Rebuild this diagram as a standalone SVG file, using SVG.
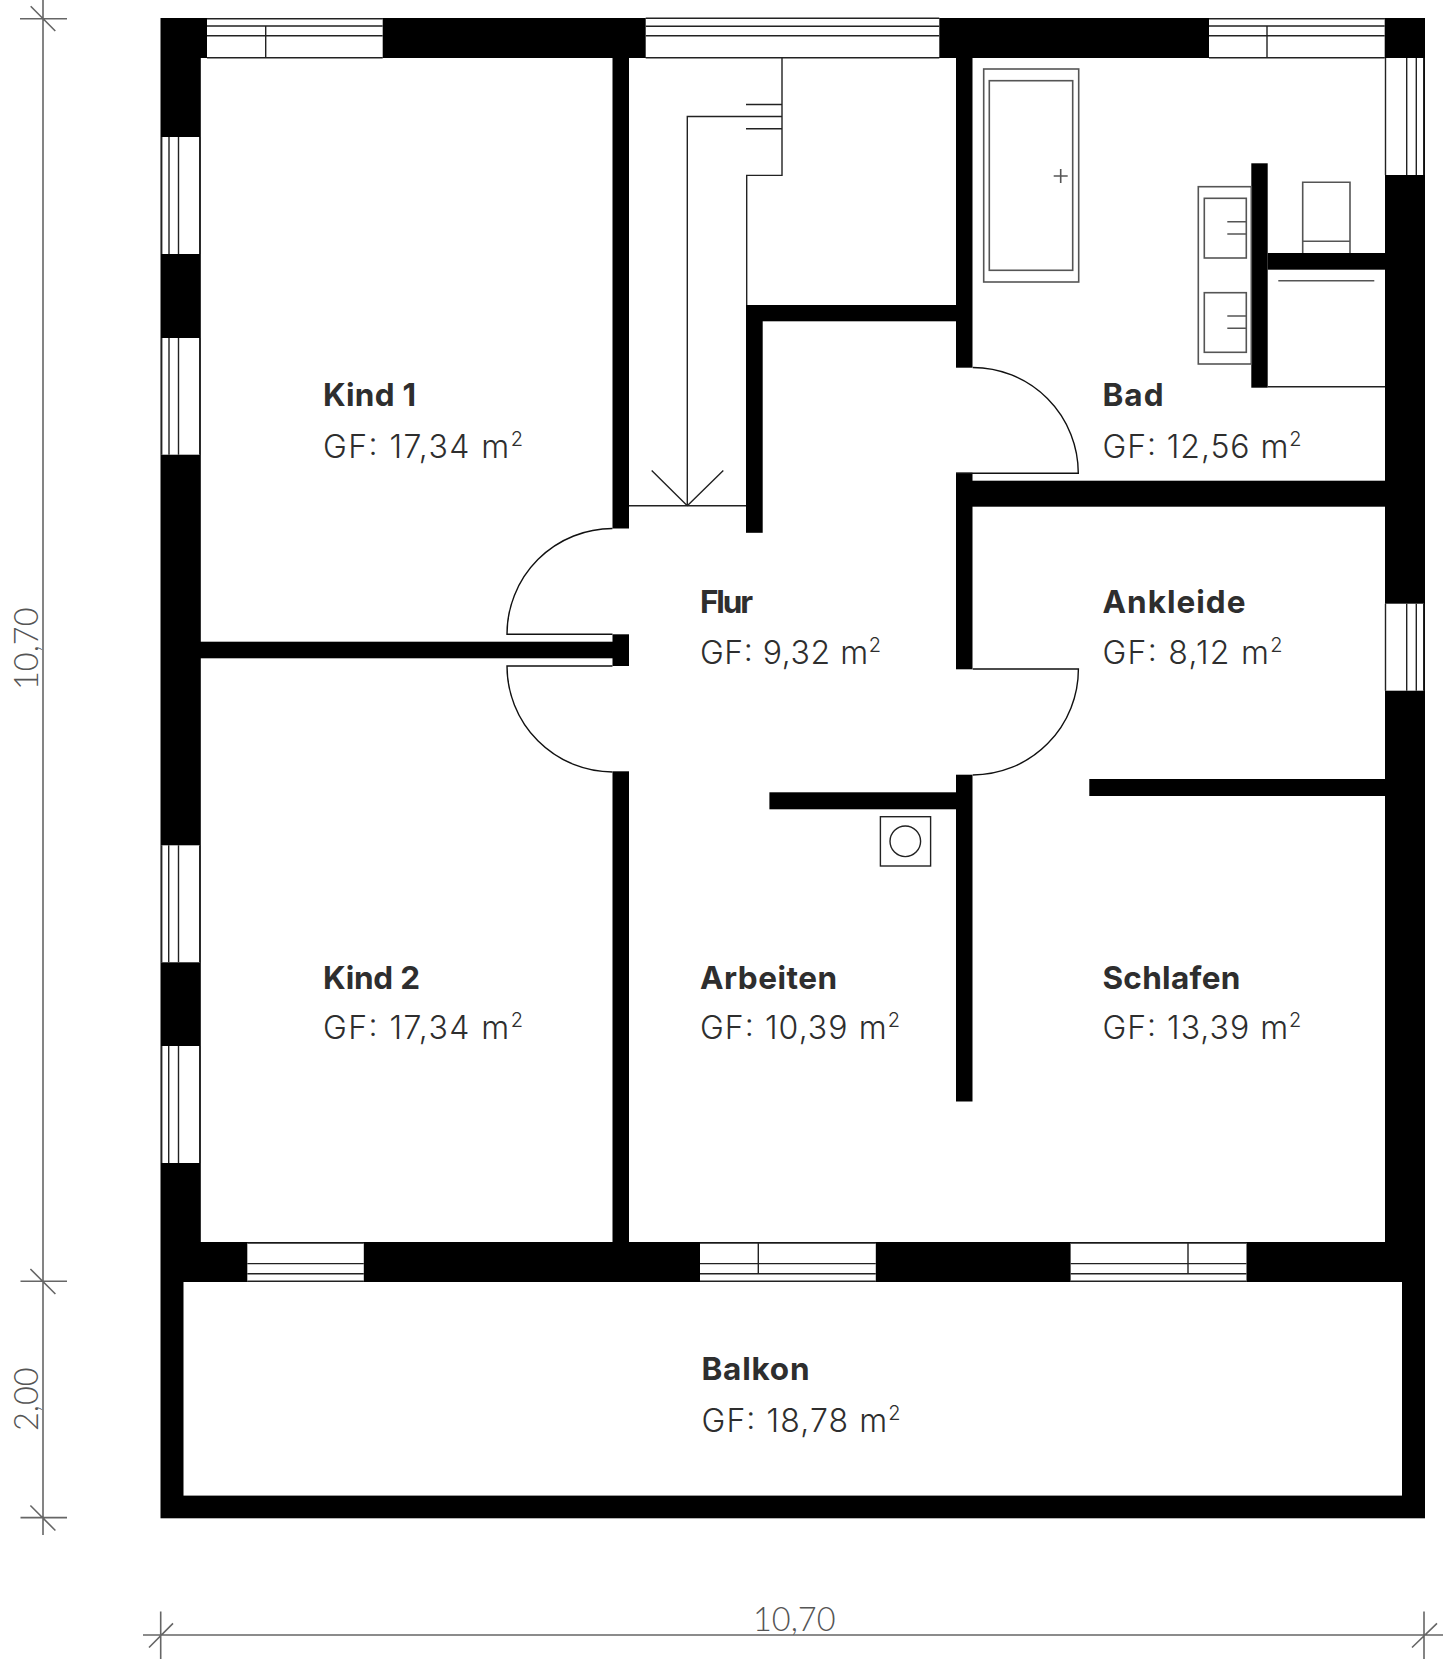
<svg xmlns="http://www.w3.org/2000/svg" width="1443" height="1659" viewBox="0 0 1443 1659">
<style>
.bg{fill:#fff}
.wall{fill:#000}
.win{fill:#fff;stroke:none}
.ln{fill:none;stroke:#222;stroke-width:1.4}
.fx{fill:none;stroke:#555;stroke-width:1.6}
.dr{fill:none;stroke:#111;stroke-width:1.4}
.dim{fill:none;stroke:#666;stroke-width:1.6}
text{font-family:"Inter","Lato","Liberation Sans",sans-serif;fill:#2e2e2e}
.h{font-size:31.5px;font-weight:700}
.a{font-size:32px;font-weight:300}
.s{font-size:20px}
.d{font-family:"Lato","Liberation Sans",sans-serif;font-size:32.5px;font-weight:300;fill:#555}
</style>
<rect class="bg" width="1443" height="1659"/>
<g id="walls">
<rect class="wall" x="160.5" y="18" width="1264.5" height="1500.3"/>
<rect class="bg" x="200.8" y="58" width="1184.2" height="1184"/>
<rect class="bg" x="183.5" y="1282" width="1218.5" height="213.6"/>
<rect class="wall" x="612.5" y="58" width="16.5" height="470.5"/>
<rect class="wall" x="612.5" y="634.3" width="16.5" height="31.7"/>
<rect class="wall" x="200" y="641.7" width="413" height="16.6"/>
<rect class="wall" x="612.5" y="771.3" width="16.5" height="471.7"/>
<rect class="wall" x="956" y="58" width="16.5" height="309.7"/>
<rect class="wall" x="956" y="472.7" width="16.5" height="196.6"/>
<rect class="wall" x="956" y="480.7" width="429" height="26"/>
<rect class="wall" x="746" y="305" width="210" height="16.3"/>
<rect class="wall" x="746" y="305" width="16.7" height="227.8"/>
<rect class="wall" x="956" y="774.7" width="16.5" height="326.8"/>
<rect class="wall" x="769.4" y="792.3" width="187" height="17"/>
<rect class="wall" x="1089.3" y="779" width="296" height="17"/>
<rect class="wall" x="1251.3" y="163.3" width="16.4" height="224.4"/>
<rect class="wall" x="1267.7" y="253" width="117.3" height="16.7"/>
</g>
<g id="windows">
<rect class="win" x="207" y="18.7" width="175.7" height="39"/>
<path class="ln" d="M207 18.7H382.7M207 26H382.7M207 35.7H382.7M207 57.7H382.7M265.7 26V58"/>
<rect class="win" x="645.7" y="18.3" width="293.6" height="39"/>
<path class="ln" d="M645.7 18.3H939.3M645.7 26.2H939.3M645.7 35.7H939.3M645.7 57.7H939.3"/>
<rect class="win" x="1209" y="18.7" width="175.7" height="39"/>
<path class="ln" d="M1209 18.7H1384.7M1209 26H1384.7M1209 35.7H1384.7M1209 57.7H1384.7M1267 26V58"/>
<rect class="win" x="161.3" y="137" width="38.7" height="117"/>
<path class="ln" d="M161.7 137V254M169 137V254M178.5 137V254M199.7 137V254"/>
<rect class="win" x="161.3" y="338" width="38.7" height="116.7"/>
<path class="ln" d="M161.7 338V454.7M169 338V454.7M178.5 338V454.7M199.7 338V454.7"/>
<rect class="win" x="161.3" y="845.3" width="38.7" height="117"/>
<path class="ln" d="M161.7 845.3V962.3M168.7 845.3V962.3M178.5 845.3V962.3M199.7 845.3V962.3"/>
<rect class="win" x="161.3" y="1046" width="38.7" height="117"/>
<path class="ln" d="M161.7 1046V1163M168.7 1046V1163M178.5 1046V1163M199.7 1046V1163"/>
<rect class="win" x="1385.3" y="58" width="38.5" height="117"/>
<path class="ln" d="M1385.5 58V175M1406.7 58V175M1416.3 58V175M1423.7 58V175"/>
<rect class="win" x="1385.3" y="603.7" width="38.5" height="87"/>
<path class="ln" d="M1385.5 603.7V690.7M1406.7 603.7V690.7M1416.3 603.7V690.7M1423.7 603.7V690.7"/>
<rect class="win" x="247.3" y="1243" width="116.5" height="38.5"/>
<path class="ln" d="M247.3 1243H363.8M247.3 1263.6H363.8M247.3 1273.8H363.8M247.3 1281.2H363.8"/>
<rect class="win" x="700" y="1243" width="175.8" height="38.5"/>
<path class="ln" d="M700 1243H875.8M700 1263.6H875.8M700 1273.8H875.8M700 1281.2H875.8M758.3 1243V1273.8"/>
<rect class="win" x="1070.6" y="1243" width="175.9" height="38.5"/>
<path class="ln" d="M1070.6 1243H1246.5M1070.6 1263.6H1246.5M1070.6 1273.8H1246.5M1070.6 1281.2H1246.5M1188 1243V1273.8"/>
</g>
<g id="stairs">
<path class="ln" d="M782 57.5V175.4H746.7V305M746 104.5H782M746 128.7H782M782 116.5H687.3V505.8M651.7 470.4L687.3 505.8L723.3 470.4M629 505.8H746"/>
</g>
<g id="doors">
<path class="dr" d="M612.5 528.5A105.7 105.7 0 0 0 507 634.3H612.5"/>
<path class="dr" d="M612.5 666H507A106 106 0 0 0 612.5 772"/>
<path class="dr" d="M972.7 367.5A105.7 105.7 0 0 1 1078.3 473.3H956"/>
<path class="dr" d="M972.7 669H1078.4A106 106 0 0 1 972.7 775"/>
</g>
<g id="fixtures">
<rect class="fx" x="983.7" y="69" width="95" height="213"/>
<rect class="fx" x="989.3" y="80.7" width="83.4" height="189.6"/>
<path class="fx" d="M1053.7 176H1067.7M1060.7 169V183"/>
<rect class="fx" x="1198.3" y="186.7" width="53" height="177.3"/>
<rect class="fx" x="1204.3" y="198.3" width="42" height="59.7"/>
<rect class="fx" x="1204.3" y="292.7" width="42" height="59.6"/>
<path class="fx" d="M1227.3 221.7H1246M1227.3 234H1246M1227.3 316H1246M1227.3 328.3H1246"/>
<path class="fx" d="M1302.7 253V182.3H1350V253M1302.7 241.3H1350"/>
<path class="fx" d="M1278.3 280.7H1374.3"/>
<path class="ln" d="M1267.7 386.7H1385"/>
<rect class="ln" x="880.4" y="816.7" width="50.2" height="49.3"/>
<circle class="ln" cx="905.3" cy="841.3" r="15.3"/>
</g>
<g id="dimensions">
<path class="dim" d="M43 0V1535M20 18.7H67M30.7 6.3L55.3 31M20.5 1281.2H67M30.4 1269L55.4 1294M20.5 1517.6H67M30.4 1505.5L55.4 1530.5"/>
<path class="dim" d="M143 1635H1443M160.7 1611.4V1659M173 1623.4L149 1647.5M1424 1611.4V1659M1437 1623.4L1412 1647.5"/>
<text class="d" transform="translate(38 690) rotate(-90)">10,70</text>
<text class="d" transform="translate(38 1431) rotate(-90)">2,00</text>
<text class="d" x="753" y="1631">10,70</text>
</g>
<g id="labels">
<g id="kind1"><text class="h" x="323" y="406" textLength="93">Kind 1</text><text class="a" x="323" y="457.7" textLength="200">GF: 17,34 m<tspan class="s" dy="-12">2</tspan></text></g>
<g id="kind2"><text class="h" x="323" y="989" textLength="97">Kind 2</text><text class="a" x="323" y="1039.3" textLength="200">GF: 17,34 m<tspan class="s" dy="-12">2</tspan></text></g>
<g id="flur"><text class="h" x="700" y="612.7" textLength="53">Flur</text><text class="a" x="700" y="664" textLength="181">GF: 9,32 m<tspan class="s" dy="-12">2</tspan></text></g>
<g id="bad"><text class="h" x="1102.5" y="406" textLength="61">Bad</text><text class="a" x="1102.5" y="457.7" textLength="199">GF: 12,56 m<tspan class="s" dy="-12">2</tspan></text></g>
<g id="ankleide"><text class="h" x="1102.5" y="612.7" textLength="143">Ankleide</text><text class="a" x="1102.5" y="664" textLength="180">GF: 8,12 m<tspan class="s" dy="-12">2</tspan></text></g>
<g id="arbeiten"><text class="h" x="700" y="989" textLength="137">Arbeiten</text><text class="a" x="700" y="1039.3" textLength="200">GF: 10,39 m<tspan class="s" dy="-12">2</tspan></text></g>
<g id="schlafen"><text class="h" x="1102.4" y="989" textLength="138">Schlafen</text><text class="a" x="1102.4" y="1039.3" textLength="199">GF: 13,39 m<tspan class="s" dy="-12">2</tspan></text></g>
<g id="balkon"><text class="h" x="701.5" y="1380" textLength="108">Balkon</text><text class="a" x="701.5" y="1431.7" textLength="199">GF: 18,78 m<tspan class="s" dy="-12">2</tspan></text></g>
</g>
</svg>
